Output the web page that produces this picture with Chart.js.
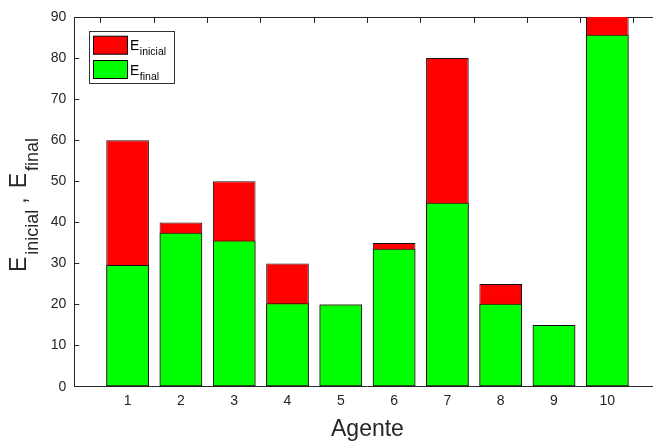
<!DOCTYPE html>
<html><head><meta charset="utf-8">
<script src="https://cdn.jsdelivr.net/npm/chart.js@4/dist/chart.umd.min.js"></script>
<style>
html,body{margin:0;padding:0;background:#fff;overflow:hidden;width:653px;height:443px}
#wrap{position:absolute;left:0;top:0;width:700px;height:443px}
</style>
</head><body><div id="wrap"><canvas id="c" width="700" height="443"></canvas></div>
<script>
const agents = [1, 2, 3, 4, 5, 6, 7, 8, 9, 10];
const eInicial = [60, 40, 50, 30, 20, 35, 80, 25, 15, 100];
const eFinal = [29.6, 37.5, 35.6, 20.3, 20, 33.6, 44.8, 20.2, 15, 85.7];
const yTicks = [0, 10, 20, 30, 40, 50, 60, 70, 80, 90];
const seriesMain = ['E', 'E'];
const seriesSub = ['inicial', 'final'];
const seriesColors = ['#ff0000', '#00ff00'];
const xTitle = 'Agente';
const yTitleParts = [['E', 'inicial'], ['E', 'final']];

const FONT = "'Liberation Sans', Arial, Helvetica, sans-serif";
const AX = '#262626';

const legendPlugin = {
  id: 'subLegend',
  afterDraw(chart) {
    const ctx = chart.ctx;
    ctx.save();
    ctx.fillStyle = '#fff';
    ctx.fillRect(89.5, 31.5, 85, 52);
    ctx.strokeStyle = '#333';
    ctx.lineWidth = 1;
    ctx.strokeRect(89.5, 31.5, 85, 52);
    seriesSub.forEach((sub, i) => {
      const cy = 45.2 + i * 24.3;
      ctx.fillStyle = seriesColors[i];
      ctx.fillRect(93.5, cy - 9, 34, 18);
      ctx.strokeStyle = '#000';
      ctx.strokeRect(93.5, cy - 9, 34, 18);
      ctx.fillStyle = '#000';
      ctx.textBaseline = 'alphabetic';
      ctx.textAlign = 'left';
      ctx.font = '14px ' + FONT;
      ctx.fillText(seriesMain[i], 130, cy + 5);
      const w = ctx.measureText(seriesMain[i]).width;
      ctx.font = '10.5px ' + FONT;
      ctx.fillText(sub, 130 + w + 0.5, cy + 10);
    });
    ctx.restore();
  }
};

const yTitlePlugin = {
  id: 'yTitleSub',
  afterDraw(chart) {
    const ctx = chart.ctx;
    ctx.save();
    ctx.translate(26, 272);
    ctx.rotate(-Math.PI / 2);
    ctx.fillStyle = AX;
    ctx.textBaseline = 'alphabetic';
    ctx.textAlign = 'left';
    let x = 0;
    yTitleParts.forEach((p, i) => {
      if (i > 0) {
        x += 6;
        ctx.font = '23px ' + FONT;
        ctx.fillText(',', x, 0);
        x += ctx.measureText(',').width + 9;
      }
      ctx.font = '23px ' + FONT;
      ctx.fillText(p[0], x, 0);
      x += ctx.measureText(p[0]).width + 2;
      ctx.font = '18px ' + FONT;
      ctx.fillText(p[1], x, 12);
      x += ctx.measureText(p[1]).width;
    });
    ctx.restore();
  }
};

const toPts = arr => agents.map((a, i) => ({x: a, y: arr[i]}));
const noPad = s => { s.paddingTop = 0; s.paddingBottom = 0; s.paddingLeft = 0; s.paddingRight = 0; };

new Chart(document.getElementById('c'), {
  type: 'bar',
  data: {
    datasets: [
      {label: 'E inicial', data: toPts(eInicial), backgroundColor: seriesColors[0], borderColor: '#111', borderWidth: 1, borderSkipped: false, grouped: false, order: 2, xAxisID: 'x', yAxisID: 'y'},
      {label: 'E final', data: toPts(eFinal), backgroundColor: seriesColors[1], borderColor: '#111', borderWidth: 1, borderSkipped: false, grouped: false, order: 1, xAxisID: 'x', yAxisID: 'y'}
    ]
  },
  options: {
    responsive: false,
    animation: false,
    devicePixelRatio: 1,
    categoryPercentage: 1,
    barPercentage: 0.8,
    layout: {padding: {left: 0, top: 17, right: 39.4, bottom: 0}},
    plugins: {legend: {display: false}, tooltip: {enabled: false}},
    scales: {
      x: {
        type: 'linear', position: 'bottom', min: 0, max: 11, offset: false,
        afterBuildTicks: s => { s.ticks = agents.map(v => ({value: v})); },
        ticks: {color: AX, font: {family: FONT, size: 14}, padding: 6, maxRotation: 0, autoSkip: false},
        grid: {display: true, drawOnChartArea: false, drawTicks: false},
        border: {display: true, color: AX, width: 1},
        title: {display: true, text: xTitle, color: AX, font: {family: FONT, size: 23}, padding: {top: 0, bottom: 0}},
        afterFit: s => { s.height = 56.3; noPad(s); }
      },
      xTop: {
        type: 'linear', axis: 'x', position: 'top', min: 0, max: 11, offset: false,
        afterBuildTicks: s => { s.ticks = agents.map(v => ({value: v})); },
        ticks: {display: false},
        grid: {display: true, drawOnChartArea: false, drawTicks: true, tickLength: -6, color: AX},
        border: {display: true, color: AX, width: 1},
        afterFit: s => { s.height = 0; noPad(s); }
      },
      y: {
        type: 'linear', position: 'left', min: 0, max: 90,
        afterBuildTicks: s => { s.ticks = yTicks.map(v => ({value: v})); },
        ticks: {color: AX, font: {family: FONT, size: 14}, padding: 13},
        grid: {display: true, drawOnChartArea: false, drawTicks: true, tickLength: -5, color: AX},
        border: {display: true, color: AX, width: 1},
        afterFit: s => { s.width = 74.3; noPad(s); }
      }
    }
  },
  plugins: [legendPlugin, yTitlePlugin]
});
</script>
</body></html>
